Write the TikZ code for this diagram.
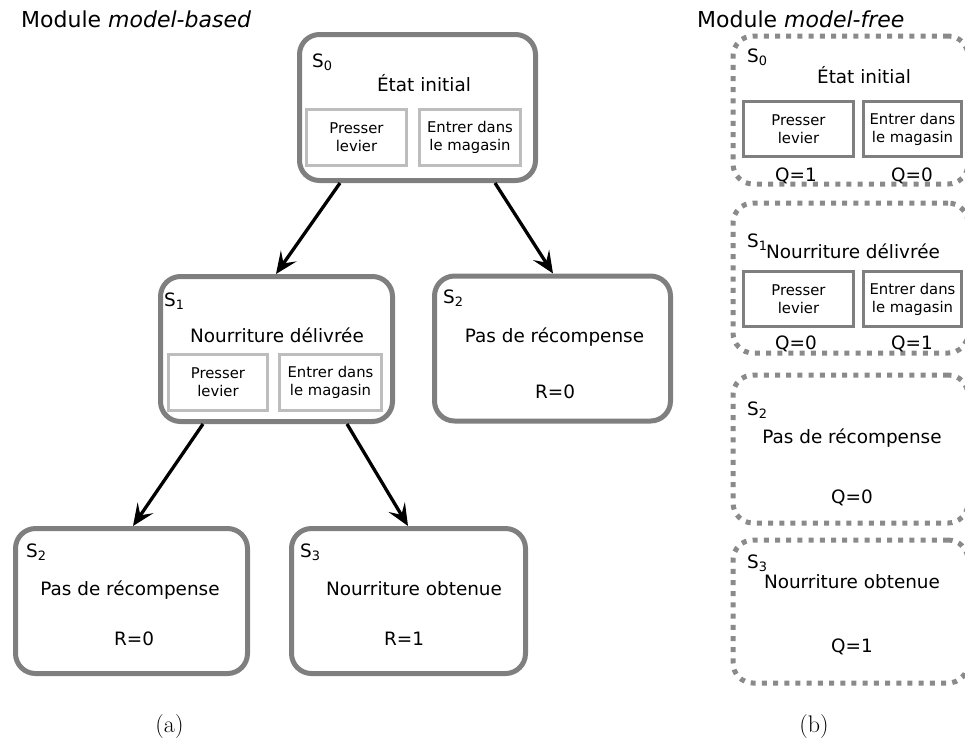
\documentclass[tikz,border=0pt]{standalone}
\usepackage{fontspec}
\usepackage{xcolor}
\usetikzlibrary{arrows.meta}

\newfontfamily\djv{DejaVu Sans}

\definecolor{grisbord}{HTML}{7F7F7F}
\definecolor{grisclair}{HTML}{BDBDBD}
\definecolor{grispoint}{HTML}{8A8A8A}

\tikzset{
  etat/.style={draw=grisbord, line width=5pt, rounded corners=20pt},
  etatlibre/.style={draw=grispoint, line width=5pt, rounded corners=20pt,
    dash pattern=on 5pt off 6.2pt},
  action/.style={draw=grisclair, line width=3.5pt, align=center,
    font=\djv\fontsize{14.8}{18}\selectfont},
  actionlibre/.style={action, draw=grisbord},
  texte/.style={inner sep=0pt, anchor=base, font=\djv\fontsize{18.4}{22}\selectfont},
  etiq/.style={texte, anchor=base west},
  fleche/.style={line width=3.3pt, -{Stealth[length=22pt, width=19pt, inset=9pt]}}
}

\begin{document}
\begin{tikzpicture}[x=1pt, y=-1pt]
        \useasboundingbox (0,0) rectangle (965,740);

        % Etape 1 : les titres des deux modules
        \node[etiq, font=\djv\fontsize{22}{26}\selectfont] (titreA) at (21,27)
            {Module \textit{model-based}};
        \node[etiq, font=\djv\fontsize{22}{26}\selectfont] (titreB) at (697,27)
            {Module \textit{model-free}};

        % Etape 2 : les etats du module model-based
        \node[etat, minimum width=236, minimum height=146] (S0) at (417.5,107.5) {};
        \node[etat, minimum width=232, minimum height=145] (S1) at (276.5,349) {};
        \node[etat, minimum width=236, minimum height=145] (S2) at (552.5,348.5) {};
        \node[etat, minimum width=232, minimum height=145] (S2b) at (131.5,601) {};
        \node[etat, minimum width=234, minimum height=145] (S3) at (408.5,601) {};

        % Etape 3 : les textes dans les etats
        \node[etiq] (lS0) at (312,67) {S\textsubscript{0}};
        \node[texte] (tS0) at (424,91) {État initial};
        \node[action, minimum width=100, minimum height=56] (pS0) at (356.5,137.5)
            {Presser\\levier};
        \node[action, minimum width=101, minimum height=56] (eS0) at (470,137.5)
            {Entrer dans\\le magasin};

        \node[etiq] (lS1) at (164,306) {S\textsubscript{1}};
        \node[texte] (tS1) at (277,342) {Nourriture délivrée};
        \node[action, minimum width=99, minimum height=56] (pS1) at (218,382.5)
            {Presser\\levier};
        \node[action, minimum width=102, minimum height=56] (eS1) at (330.5,382.5)
            {Entrer dans\\le magasin};

        \node[etiq] (lS2) at (443,303) {S\textsubscript{2}};
        \node[texte] (tS2) at (554.5,342) {Pas de récompense};
        \node[texte] (rS2) at (555,398) {R=0};

        \node[etiq] (lS2b) at (26,557) {S\textsubscript{2}};
        \node[texte] (tS2b) at (130,595) {Pas de récompense};
        \node[texte] (rS2b) at (134,645) {R=0};

        \node[etiq] (lS3) at (300,557) {S\textsubscript{3}};
        \node[texte] (tS3) at (414,595) {Nourriture obtenue};
        \node[texte] (rS3) at (404,645) {R=1};

        % Etape 4 : les transitions
        \draw[fleche] ([xshift=-77.5pt]S0.south) -- ([xshift=-0.5pt]S1.north);
        \draw[fleche] ([xshift=77.5pt]S0.south) -- ([xshift=0.5pt]S2.north);
        \draw[fleche] ([xshift=-73.5pt]S1.south) -- ([xshift=1.5pt]S2b.north);
        \draw[fleche] ([xshift=70.5pt]S1.south) -- ([xshift=-0.5pt]S3.north);

        % Etape 5 : les etats du module model-free (coupes au bord droit)
        \begin{scope}
            \clip (0,0) rectangle (965,740);
            \node[etatlibre, minimum width=235, minimum height=148] (F0) at (850.5,110) {};
            \node[etatlibre, minimum width=235, minimum height=150] (F1) at (850.5,278) {};
            \node[etatlibre, minimum width=235, minimum height=148] (F2) at (850.5,449) {};
            \node[etatlibre, minimum width=235, minimum height=143] (F3) at (850.5,611.5) {};
        \end{scope}

        % Etape 6 : les textes et les valeurs Q
        \node[etiq] (lF0) at (747,62) {S\textsubscript{0}};
        \node[texte] (tF0) at (864,83) {État initial};
        \node[actionlibre, minimum width=110, minimum height=55] (pF0) at (798.5,129)
            {Presser\\levier};
        \node[actionlibre, minimum width=98, minimum height=55] (eF0) at (912.5,129)
            {Entrer dans\\le magasin};
        \node[texte] (qpF0) at (796,181) {Q=1};
        \node[texte] (qeF0) at (912,181) {Q=0};

        \node[etiq] (lF1) at (747,247) {S\textsubscript{1}};
        \node[texte] (tF1) at (853,258) {Nourriture délivrée};
        \node[actionlibre, minimum width=110, minimum height=55] (pF1) at (798.5,299)
            {Presser\\levier};
        \node[actionlibre, minimum width=98, minimum height=55] (eF1) at (912.5,299)
            {Entrer dans\\le magasin};
        \node[texte] (qpF1) at (796,349) {Q=0};
        \node[texte] (qeF1) at (912,349) {Q=1};

        \node[etiq] (lF2) at (747,415) {S\textsubscript{2}};
        \node[texte] (tF2) at (852,443) {Pas de récompense};
        \node[texte] (qF2) at (852,503) {Q=0};

        \node[etiq] (lF3) at (747,568) {S\textsubscript{3}};
        \node[texte] (tF3) at (852,588) {Nourriture obtenue};
        \node[texte] (qF3) at (852,652) {Q=1};

        % Etape 7 : les legendes
        \node[inner sep=0pt, anchor=base, font=\fontsize{24}{28}\selectfont] (legA)
            at (169.5,732) {(a)};
        \node[inner sep=0pt, anchor=base, font=\fontsize{24}{28}\selectfont] (legB)
            at (814,732) {(b)};
    \end{tikzpicture}
\end{document}
